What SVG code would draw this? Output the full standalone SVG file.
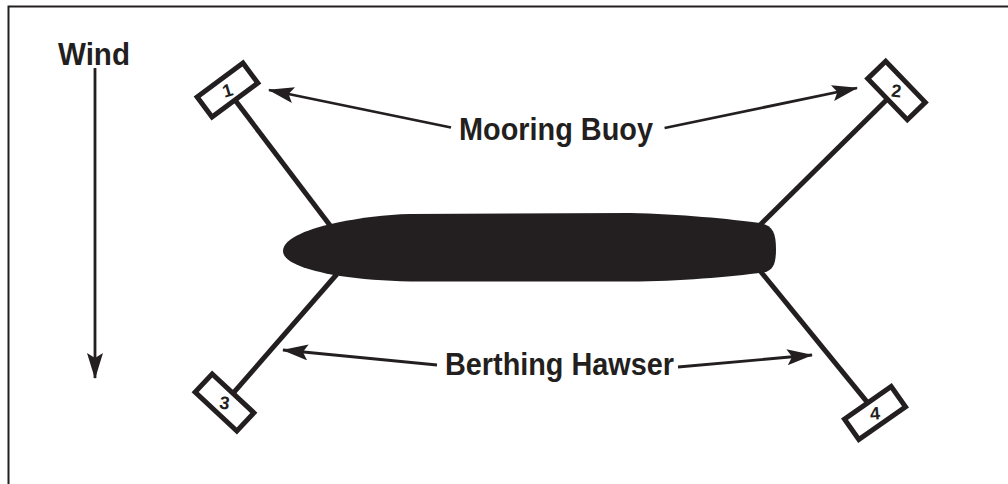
<svg xmlns="http://www.w3.org/2000/svg" width="1008" height="484" viewBox="0 0 1008 484">
<defs>
<style>
.lbl{font-family:"Liberation Sans",Arial,sans-serif;font-weight:bold;font-size:31px;fill:#231f20}
.num{font-family:"Liberation Sans",Arial,sans-serif;font-weight:bold;font-size:18px;fill:#231f20;text-anchor:middle}
.box{fill:#fff;stroke:#231f20;stroke-width:5}
.hawser{stroke:#231f20;stroke-width:5;fill:none}
.ann{stroke:#231f20;stroke-width:2.8;fill:none;marker-end:url(#ah)}
.frame{stroke:#231f20;stroke-width:2;fill:none}
</style>
<marker id="ah" markerUnits="userSpaceOnUse" markerWidth="27" markerHeight="16" refX="25" refY="8" orient="auto" viewBox="0 0 27 16">
<path d="M0,0 L26,8 L0,16 L5,8 Z" fill="#231f20"/>
</marker>
</defs>
<rect width="1008" height="484" fill="#fff"/>
<g id="frame">
<path class="frame" d="M8.5,484 V6.5 H1008"/>
</g>
<g id="connectors">
<line class="hawser" x1="235" y1="100" x2="332" y2="228"/>
<line class="hawser" x1="887.5" y1="99" x2="757" y2="228"/>
<line class="hawser" x1="233" y1="393.4" x2="337" y2="274"/>
<line class="hawser" x1="867.8" y1="402.8" x2="757" y2="267"/>
<line class="ann" x1="95" y1="68" x2="95" y2="378"/>
<line class="ann" x1="451" y1="127.5" x2="269" y2="90"/>
<line class="ann" x1="664.6" y1="128" x2="857" y2="88"/>
<line class="ann" x1="437" y1="365" x2="283" y2="350"/>
<line class="ann" x1="678" y1="367" x2="812" y2="355"/>
</g>
<g id="ship">
<path fill="#231f20" d="M283,251 C283,238 310,228 340,222 C360,218 385,214.5 410,214 L630,213 C680,214 730,219 760,223 C772,225 776,232 776,249 C776,264 773,270 765,272 C730,277 680,281 630,281.5 L410,281.5 C385,281 360,279 340,276 C310,271 283,263 283,251 Z"/>
</g>
<g id="buoy1" transform="translate(227.5,90) rotate(-36.5)">
<rect class="box" x="-28.5" y="-12.5" width="57" height="25"/>
<text class="num" x="0" y="6.5" transform="rotate(20)">1</text>
</g>
<g id="buoy2" transform="translate(896.5,90.5) rotate(46)">
<rect class="box" x="-28.5" y="-12.5" width="57" height="25"/>
<text class="num" x="0" y="6.5" transform="rotate(-40)">2</text>
</g>
<g id="buoy3" transform="translate(224.5,402.5) rotate(43)">
<rect class="box" x="-28.5" y="-12.5" width="57" height="25"/>
<text class="num" x="0" y="6.5" transform="rotate(-35)">3</text>
</g>
<g id="buoy4" transform="translate(875,413) rotate(-35)">
<rect class="box" x="-28.5" y="-12.5" width="57" height="25"/>
<text class="num" x="0" y="6.5" transform="rotate(30)">4</text>
</g>
<g id="labels">
<text class="lbl" x="58" y="65" textLength="72" lengthAdjust="spacingAndGlyphs">Wind</text>
<text class="lbl" x="459" y="140" textLength="194" lengthAdjust="spacingAndGlyphs">Mooring Buoy</text>
<text class="lbl" x="445" y="375" textLength="229" lengthAdjust="spacingAndGlyphs">Berthing Hawser</text>
</g>
</svg>
